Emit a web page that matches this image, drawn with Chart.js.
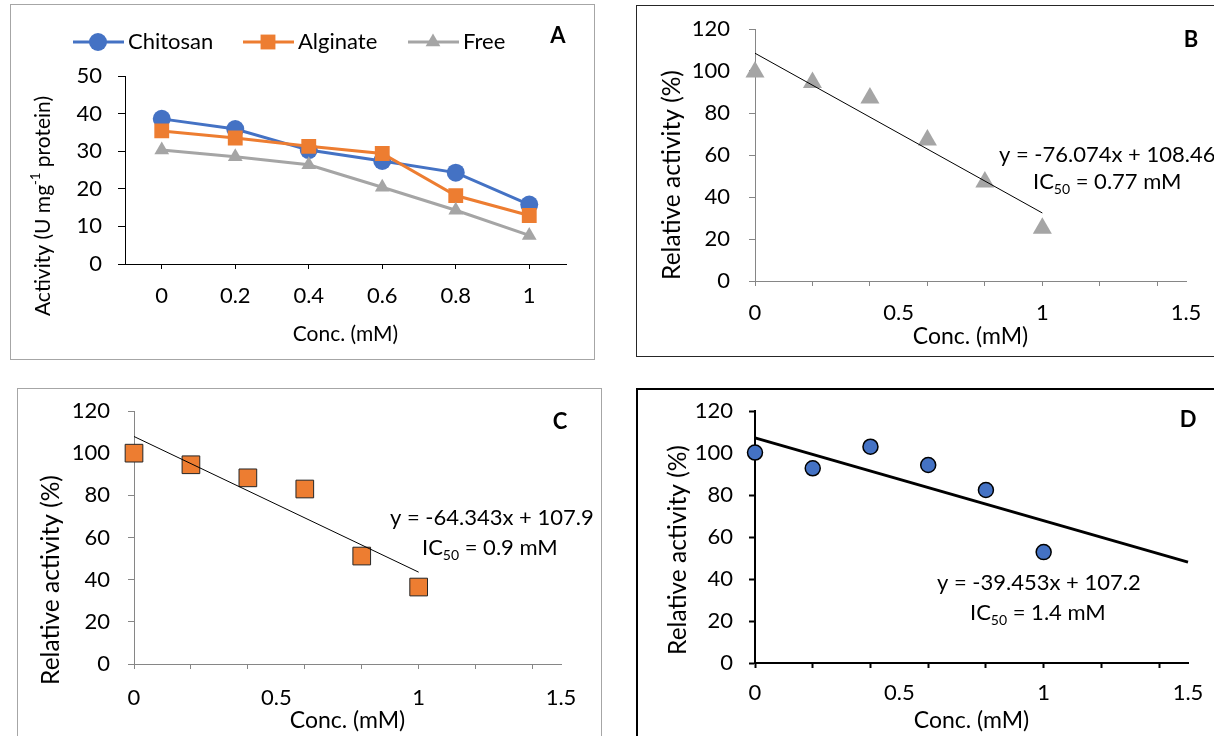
<!DOCTYPE html>
<html>
<head>
<meta charset="utf-8">
<script src="https://cdn.jsdelivr.net/npm/chart.js@4.4.0/dist/chart.umd.min.js"></script>
<style>
  body { margin: 0; background: #fff; width: 1214px; height: 736px; overflow: hidden; position: relative; }
  .box { position: absolute; box-sizing: border-box; }
  canvas { position: absolute; }
</style>
</head>
<body>
<div class="box" style="left:10px;top:4px;width:585px;height:356px;border:1.5px solid #a6a6a6"></div>
<div class="box" style="left:636px;top:5px;width:600px;height:352px;border:1.5px solid #262626"></div>
<div class="box" style="left:17px;top:388px;width:585px;height:360px;border:1.5px solid #a6a6a6"></div>
<div class="box" style="left:636px;top:388px;width:600px;height:360px;border:2px solid #000"></div>

<canvas id="cA" width="582" height="352" style="left:11px;top:6px"></canvas>
<canvas id="cB" width="576" height="348" style="left:638px;top:7px"></canvas>
<canvas id="cC" width="582" height="346" style="left:19px;top:390px"></canvas>
<canvas id="cD" width="575" height="345" style="left:639px;top:391px"></canvas>

<script>
// A - activity vs concentration
const concLabels = ['0', '0.2', '0.4', '0.6', '0.8', '1'];
const chitosanAct = [38.6, 35.9, 30.3, 27.4, 24.3, 15.8];
const alginateAct = [35.4, 33.5, 31.3, 29.4, 18.2, 12.9];
const freeAct = [30.3, 28.5, 26.4, 20.4, 14.3, 7.6];

// B, C, D - relative activity (%)
const conc = [0, 0.2, 0.4, 0.6, 0.8, 1];
const relFree = [99.5, 94.5, 87.2, 67.2, 47.1, 25.1];
const relAlginate = [100, 94.5, 88.3, 83.0, 51.2, 36.5];
const relChitosan = [100.2, 92.7, 103.0, 94.3, 82.4, 52.8];

// linear trend lines (end points)
const trendFreeX = [0, 1], trendFreeY = [108.46, 32.39];
const trendAlgX = [0, 1], trendAlgY = [107.9, 43.56];
const trendChiX = [0, 1.5], trendChiY = [107.2, 48.02];

const relTickLabels = [0, 0.5, 1, 1.5];

const blue = '#4472c4', orange = '#ed7d31', gray = '#a5a5a5';

Chart.defaults.font.family = 'Lato';
Chart.defaults.color = '#000';

const pts = (xs, ys) => xs.map((x, i) => ({ x: x, y: ys[i] }));

function marker(ctx, style, x, y, r) {
  ctx.beginPath();
  if (style === 'circle') {
    ctx.arc(x, y, r, 0, Math.PI * 2);
  } else if (style === 'rect') {
    const s = Math.SQRT1_2 * r;
    ctx.rect(x - s, y - s, 2 * s, 2 * s);
  } else {
    ctx.moveTo(x, y - r);
    ctx.lineTo(x + r * 0.866, y + r / 2);
    ctx.lineTo(x - r * 0.866, y + r / 2);
    ctx.closePath();
  }
  ctx.fill();
}

// fixed axis boxes, so the plot area lands where the picture has it
const fixY = w => s => { s.width = w; s.paddingTop = 0; s.paddingBottom = 0; };
const fixX = h => s => { s.height = h; s.paddingLeft = 0; s.paddingRight = 0; };

// letters, equations, y titles and legend drawn on top
function extras(cfg) {
  return {
    id: 'extras',
    afterDraw(chart) {
      const ctx = chart.ctx;
      const ox = cfg.off[0], oy = cfg.off[1];
      ctx.save();
      ctx.fillStyle = '#000';
      ctx.textBaseline = 'middle';

      ctx.font = 'bold 22px Lato';
      ctx.textAlign = 'center';
      ctx.fillText(cfg.letter[0], cfg.letter[1] - ox, cfg.letter[2] - oy);

      // rotated y title, parts may be superscript
      const yt = cfg.ytitle;
      ctx.save();
      ctx.translate(yt.x - ox, yt.y - oy);
      ctx.rotate(-Math.PI / 2);
      ctx.textAlign = 'left';
      let total = 0;
      yt.parts.forEach(p => {
        ctx.font = (p.sup ? 13 : yt.size) + 'px Lato';
        total += ctx.measureText(p.t).width;
      });
      let px = -total / 2;
      yt.parts.forEach(p => {
        ctx.font = (p.sup ? 13 : yt.size) + 'px Lato';
        ctx.fillText(p.t, px, p.sup ? -7 : 0);
        px += ctx.measureText(p.t).width;
      });
      ctx.restore();

      if (cfg.eq) {
        ctx.textAlign = 'left';
        ctx.font = '22px Lato';
        ctx.fillText(cfg.eq[0], cfg.eq[1] - ox, cfg.eq[2] - oy);
        let x = cfg.ic[1] - ox, y = cfg.ic[2] - oy;
        ctx.fillText('IC', x, y);
        x += ctx.measureText('IC').width;
        ctx.font = '14px Lato';
        ctx.fillText('50', x, y + 7);
        x += ctx.measureText('50').width;
        ctx.font = '22px Lato';
        ctx.fillText(' = ' + cfg.ic[0], x, y);
      }

      if (cfg.legend) {
        chart.data.datasets.forEach((ds, i) => {
          const lx = cfg.legend.x[i] - ox, ly = cfg.legend.y - oy;
          ctx.strokeStyle = ds.borderColor;
          ctx.lineWidth = 3;
          ctx.beginPath();
          ctx.moveTo(lx, ly);
          ctx.lineTo(lx + 51, ly);
          ctx.stroke();
          ctx.fillStyle = ds.backgroundColor;
          marker(ctx, ds.pointStyle, lx + 25, ly, ds.pointRadius);
          ctx.fillStyle = '#000';
          ctx.font = '22px Lato';
          ctx.textAlign = 'left';
          ctx.fillText(ds.label, lx + 55, ly);
        });
      }
      ctx.restore();
    }
  };
}

new Chart(document.getElementById('cA'), {
  type: 'line',
  data: {
    labels: concLabels,
    datasets: [
      { label: 'Chitosan', data: chitosanAct, borderColor: blue, backgroundColor: blue, borderWidth: 3,
        pointStyle: 'circle', pointRadius: 9, pointBorderWidth: 0, order: 2 },
      { label: 'Alginate', data: alginateAct, borderColor: orange, backgroundColor: orange, borderWidth: 3,
        pointStyle: 'rect', pointRadius: 10.5, pointBorderWidth: 0, order: 1 },
      { label: 'Free', data: freeAct, borderColor: gray, backgroundColor: gray, borderWidth: 3,
        pointStyle: 'triangle', pointRadius: 8.5, pointBorderWidth: 0, order: 0 }
    ]
  },
  options: {
    responsive: false,
    animation: false,
    devicePixelRatio: 1,
    layout: { autoPadding: false, padding: { left: 0, right: 27, top: 70, bottom: 4 } },
    plugins: { legend: { display: false }, tooltip: { enabled: false } },
    elements: { line: { tension: 0 } },
    scales: {
      x: {
        type: 'category',
        offset: true,
        afterFit: fixX(90),
        border: { color: '#000', width: 1 },
        grid: { offset: false, drawOnChartArea: false, tickLength: 5, tickColor: '#000' },
        ticks: { padding: 14, font: { size: 22 }, maxRotation: 0 },
        title: { display: true, text: 'Conc. (mM)', font: { size: 21 }, padding: { top: 0, bottom: 7 } }
      },
      y: {
        min: 0, max: 50,
        afterFit: fixY(114),
        border: { color: '#000', width: 1 },
        grid: { drawOnChartArea: false, tickLength: 7, tickColor: '#000' },
        ticks: { stepSize: 10, padding: 16, font: { size: 22 } }
      }
    }
  },
  plugins: [extras({
    off: [11, 6],
    letter: ['A', 558, 36],
    ytitle: { x: 43, y: 206, size: 21, parts: [{ t: 'Activity (U mg' }, { t: '-1', sup: true }, { t: ' protein)' }] },
    legend: { x: [73, 243, 408], y: 42 }
  })]
});

function relChart(id, o) {
  new Chart(document.getElementById(id), {
    type: 'scatter',
    data: {
      datasets: [
        { data: pts(o.tx, o.ty), type: 'line', showLine: true, borderColor: '#000', borderWidth: o.trendW,
          pointRadius: 0, fill: false, clip: false, order: 0 },
        { data: pts(conc, o.vals), pointStyle: o.style, pointRadius: o.r, backgroundColor: o.color,
          borderColor: o.edge, borderWidth: o.edgeW, clip: false, order: 1 }
      ]
    },
    options: {
      responsive: false,
      animation: false,
      devicePixelRatio: 1,
      layout: { autoPadding: false, padding: o.pad },
      plugins: { legend: { display: false }, tooltip: { enabled: false } },
      scales: {
        x: {
          type: 'linear', min: 0, max: 1.5,
          afterBuildTicks: s => {
            s.ticks = [];
            for (let i = 0; i <= 15; i++) s.ticks.push({ value: i / 10 });
          },
          afterFit: fixX(o.xH),
          border: { color: o.axis, width: o.axisW },
          grid: {
            drawOnChartArea: false, tickLength: 5, tickWidth: o.axisW,
            tickColor: c => (c.tick && Math.round(c.tick.value * 10) % 2 === 0) ? o.axis : 'rgba(0,0,0,0)'
          },
          ticks: {
            autoSkip: false, maxRotation: 0, padding: o.xPad, font: { size: 22 },
            callback: v => {
              const r = Math.round(v * 10) / 10;
              return relTickLabels.includes(r) ? String(r) : '';
            }
          },
          title: { display: true, text: 'Conc. (mM)', font: { size: 23 }, padding: { top: 0, bottom: o.tPad } }
        },
        y: {
          min: 0, max: 120,
          afterFit: fixY(o.yW),
          border: { color: o.axis, width: o.axisW },
          grid: { drawOnChartArea: false, tickLength: 6, tickColor: o.axis, tickWidth: o.axisW },
          ticks: { stepSize: 20, padding: o.yPad, font: { size: 22 } }
        }
      }
    },
    plugins: [extras(o.extra)]
  });
}

relChart('cB', {
  vals: relFree, tx: trendFreeX, ty: trendFreeY, trendW: 1,
  style: 'triangle', r: 11, color: gray, edge: gray, edgeW: 0,
  axis: '#868686', axisW: 1,
  pad: { left: 0, right: 28, top: 22, bottom: 4 }, xH: 70, yW: 117, xPad: 14, tPad: 1, yPad: 19,
  extra: {
    off: [638, 7], letter: ['B', 1191, 40],
    ytitle: { x: 672, y: 175, size: 24.5, parts: [{ t: 'Relative activity (%)' }] },
    eq: ['y = -76.074x + 108.46', 999, 155], ic: ['0.77 mM', 1033, 182]
  }
});

relChart('cC', {
  vals: relAlginate, tx: trendAlgX, ty: trendAlgY, trendW: 1,
  style: 'rect', r: 12.5, color: orange, edge: '#262626', edgeW: 1,
  axis: '#868686', axisW: 1,
  pad: { left: 0, right: 40, top: 21, bottom: 0 }, xH: 72, yW: 115, xPad: 16, tPad: 2, yPad: 18,
  extra: {
    off: [19, 390], letter: ['C', 560, 422],
    ytitle: { x: 51, y: 580, size: 24.5, parts: [{ t: 'Relative activity (%)' }] },
    eq: ['y = -64.343x + 107.9', 390, 518], ic: ['0.9 mM', 422, 548]
  }
});

relChart('cD', {
  vals: relChitosan, tx: trendChiX, ty: trendChiY, trendW: 3,
  style: 'circle', r: 7.5, color: blue, edge: '#000', edgeW: 1.5,
  axis: '#000', axisW: 2,
  pad: { left: 0, right: 26, top: 20, bottom: 1 }, xH: 72, yW: 116, xPad: 12, tPad: 1, yPad: 16,
  extra: {
    off: [639, 391], letter: ['D', 1188, 420],
    ytitle: { x: 678, y: 550, size: 24.5, parts: [{ t: 'Relative activity (%)' }] },
    eq: ['y = -39.453x + 107.2', 937, 583], ic: ['1.4 mM', 970, 613]
  }
});
</script>
</body>
</html>
